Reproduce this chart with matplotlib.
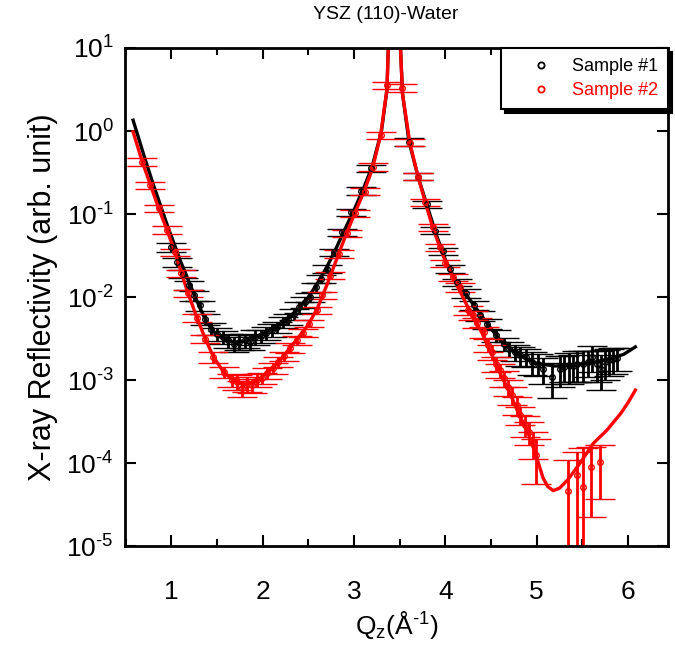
import numpy as np
import matplotlib.pyplot as plt
from matplotlib.lines import Line2D
from matplotlib.ticker import MultipleLocator, NullLocator, FuncFormatter

plt.rcParams.update({
    'font.family': 'Liberation Sans',
    'mathtext.fontset': 'custom',
    'mathtext.rm': 'Liberation Sans',
    'mathtext.it': 'Liberation Sans:italic',
    'mathtext.bf': 'Liberation Sans:bold',
    'axes.unicode_minus': False,
})

# fit curves, Q in 1/A and log10 of the reflectivity
fit1_q = [0.58, 0.65, 0.70, 0.75, 0.80, 0.85, 0.90, 0.95, 1.00, 1.05,
          1.10, 1.15, 1.20, 1.25, 1.30, 1.35, 1.40, 1.45, 1.50, 1.60,
          1.70, 1.80, 1.90, 2.00, 2.10, 2.20, 2.30, 2.40, 2.50, 2.60,
          2.70, 2.80, 2.90, 3.00, 3.10, 3.20, 3.30, 3.36, 3.38, 3.44,
          3.50, 3.53, 3.60, 3.70, 3.80, 3.90, 4.00, 4.10, 4.20, 4.30,
          4.40, 4.50, 4.60, 4.70, 4.80, 4.90, 5.00, 5.20, 5.40, 5.60,
          5.80, 5.95, 6.08]
fit1_log = [0.13, -0.12, -0.30, -0.47, -0.64, -0.80, -0.96, -1.12, -1.27, -1.42,
            -1.57, -1.70, -1.84, -1.97, -2.10, -2.22, -2.32, -2.40, -2.46, -2.52,
            -2.54, -2.53, -2.49, -2.44, -2.38, -2.31, -2.24, -2.13, -2.00, -1.83,
            -1.64, -1.42, -1.18, -0.95, -0.70, -0.42, 0.00, 0.50, 1.20, 2.00,
            1.20, 0.45, -0.12, -0.55, -0.90, -1.25, -1.55, -1.78, -1.93, -2.08,
            -2.23, -2.38, -2.52, -2.62, -2.69, -2.75, -2.80, -2.83, -2.82, -2.79,
            -2.74, -2.69, -2.60]

fit2_q = [0.58, 0.68, 0.77, 0.86, 0.95, 1.04, 1.11, 1.18, 1.28, 1.37,
          1.46, 1.57, 1.65, 1.72, 1.80, 1.88, 1.97, 2.08, 2.19, 2.30,
          2.40, 2.50, 2.60, 2.70, 2.80, 2.90, 3.00, 3.10, 3.20, 3.29,
          3.36, 3.38, 3.44, 3.50, 3.53, 3.61, 3.70, 3.78, 3.86, 3.94,
          4.00, 4.10, 4.20, 4.30, 4.40, 4.50, 4.60, 4.70, 4.80, 4.90,
          4.99, 5.07, 5.12, 5.18, 5.25, 5.34, 5.48, 5.62, 5.77, 5.92,
          6.00, 6.08]
fit2_log = [-0.01, -0.37, -0.65, -0.93, -1.19, -1.46, -1.71, -1.95, -2.25, -2.50,
            -2.72, -2.90, -2.98, -3.03, -3.05, -3.04, -2.98, -2.88, -2.76, -2.61,
            -2.47, -2.33, -2.13, -1.86, -1.57, -1.28, -1.01, -0.75, -0.46, -0.05,
            0.50, 1.20, 2.00, 1.20, 0.45, -0.14, -0.55, -0.86, -1.16, -1.40,
            -1.57, -1.80, -2.02, -2.24, -2.43, -2.68, -2.92, -3.14, -3.40, -3.62,
            -3.90, -4.18, -4.28, -4.33, -4.30, -4.20, -3.99, -3.76, -3.60, -3.40,
            -3.27, -3.12]

# measured points: Q, log10(R), relative error
s1_q = [1.00, 1.06, 1.13, 1.19, 1.25, 1.31, 1.37, 1.43, 1.50, 1.56,
        1.62, 1.68, 1.74, 1.80, 1.86, 1.92, 1.98, 2.04, 2.10, 2.16,
        2.22, 2.28, 2.34, 2.40, 2.46, 2.52, 2.58, 2.64, 2.70, 2.78,
        2.87, 2.97, 3.08, 3.18, 3.60, 3.70, 3.80, 3.89, 3.97, 4.05,
        4.13, 4.22, 4.31, 4.38, 4.46, 4.55, 4.64, 4.70, 4.76, 4.82,
        4.88, 4.95, 5.01, 5.07, 5.17, 5.26, 5.30, 5.35, 5.40, 5.44,
        5.51, 5.56, 5.61, 5.66, 5.70, 5.75, 5.79, 5.84, 5.88]
s1_log = [-1.40, -1.58, -1.72, -1.86, -1.98, -2.10, -2.26, -2.38, -2.44, -2.48,
          -2.52, -2.56, -2.54, -2.52, -2.54, -2.48, -2.47, -2.43, -2.40, -2.36,
          -2.30, -2.26, -2.20, -2.12, -2.06, -2.00, -1.88, -1.78, -1.66, -1.46,
          -1.22, -0.98, -0.72, -0.45, -0.13, -0.55, -0.88, -1.20, -1.45, -1.66,
          -1.82, -1.95, -2.10, -2.22, -2.32, -2.46, -2.56, -2.62, -2.66, -2.70,
          -2.72, -2.78, -2.80, -2.86, -2.96, -2.86, -2.84, -2.82, -2.83, -2.80,
          -2.80, -2.78, -2.72, -2.80, -2.86, -2.78, -2.76, -2.74, -2.73]
s1_rel = [0.12, 0.12, 0.12, 0.12, 0.14, 0.14, 0.15, 0.16, 0.18, 0.18,
          0.20, 0.20, 0.20, 0.20, 0.20, 0.20, 0.18, 0.18, 0.18, 0.16,
          0.16, 0.15, 0.15, 0.14, 0.14, 0.13, 0.12, 0.12, 0.12, 0.10,
          0.10, 0.10, 0.10, 0.10, 0.10, 0.10, 0.10, 0.10, 0.10, 0.10,
          0.10, 0.12, 0.12, 0.14, 0.14, 0.16, 0.18, 0.20, 0.22, 0.25,
          0.25, 0.30, 0.30, 0.35, 0.45, 0.40, 0.35, 0.40, 0.35, 0.40,
          0.40, 0.35, 0.35, 0.40, 0.45, 0.40, 0.35, 0.35, 0.30]

s2_q = [0.68, 0.77, 0.86, 0.95, 1.04, 1.11, 1.18, 1.28, 1.37, 1.46,
        1.57, 1.66, 1.72, 1.77, 1.83, 1.88, 1.94, 1.99, 2.05, 2.11,
        2.17, 2.23, 2.30, 2.37, 2.44, 2.51, 2.59, 2.65, 2.74, 2.83,
        2.92, 3.01, 3.12, 3.21, 3.29, 3.36, 3.52, 3.61, 3.70, 3.78,
        3.86, 3.94, 4.00, 4.08, 4.16, 4.25, 4.30, 4.35, 4.42, 4.47,
        4.51, 4.55, 4.60, 4.64, 4.69, 4.73, 4.78, 4.82, 4.87, 4.91,
        4.96, 4.99, 5.34, 5.44, 5.51, 5.59, 5.69]
s2_log = [-0.37, -0.65, -0.93, -1.19, -1.46, -1.71, -1.95, -2.25, -2.50, -2.72,
          -2.90, -3.00, -3.02, -3.10, -3.04, -3.06, -3.00, -2.97, -2.91, -2.85,
          -2.78, -2.71, -2.61, -2.52, -2.43, -2.32, -2.16, -1.98, -1.74, -1.48,
          -1.23, -0.99, -0.73, -0.43, -0.05, 0.55, 0.52, -0.14, -0.55, -0.86,
          -1.16, -1.40, -1.59, -1.76, -1.88, -2.16, -2.22, -2.31, -2.42, -2.58,
          -2.66, -2.80, -2.88, -2.98, -3.08, -3.18, -3.30, -3.42, -3.54, -3.62,
          -3.76, -3.90, -4.33, -4.14, -4.29, -4.05, -3.99]
s2_rel = [0.10, 0.10, 0.10, 0.10, 0.10, 0.10, 0.10, 0.10, 0.12, 0.15,
          0.15, 0.18, 0.20, 0.22, 0.20, 0.20, 0.18, 0.15, 0.15, 0.15,
          0.14, 0.13, 0.13, 0.12, 0.12, 0.10, 0.10, 0.10, 0.10, 0.10,
          0.10, 0.10, 0.10, 0.10, 0.10, 0.10, 0.10, 0.10, 0.10, 0.10,
          0.10, 0.10, 0.10, 0.10, 0.12, 0.12, 0.12, 0.14, 0.15, 0.18,
          0.20, 0.20, 0.20, 0.22, 0.22, 0.25, 0.25, 0.25, 0.28, 0.30,
          0.35, 0.55, 1.35, 0.88, 2.00, 0.75, 0.64]

labels = ['Sample #1', 'Sample #2']
colors = ['k', 'r']


def decade_label(v, pos):
    e = int(round(np.log10(v)))
    if e < 0:
        return r'$10^{\text{-%d}}$' % (-e)
    return r'$10^{%d}$' % e


fig = plt.figure(figsize=(6.75, 6.48), dpi=100)
ax = fig.add_axes([0.185, 0.157, 0.805, 0.769])

series = [(s1_q, s1_log, s1_rel, fit1_q, fit1_log),
          (s2_q, s2_log, s2_rel, fit2_q, fit2_log)]
for (q, lg, rel, fq, flg), c in zip(series, colors):
    r = 10.0 ** np.array(lg)
    err = np.array(rel) * r
    ax.errorbar(q, r, yerr=err, fmt='o', ms=4, mfc='none', mec=c, mew=1.0,
                ecolor=c, elinewidth=2, capsize=11, capthick=2.5)
    ax.plot(fq, 10.0 ** np.array(flg), color=c, lw=2.4)

ax.set_yscale('log')
ax.set_xlim(0.49, 6.44)
ax.set_ylim(1e-5, 10)
ax.xaxis.set_major_locator(MultipleLocator(1))
ax.xaxis.set_minor_locator(MultipleLocator(0.5))
ax.yaxis.set_minor_locator(NullLocator())
ax.yaxis.set_major_formatter(FuncFormatter(decade_label))
ax.tick_params(which='both', direction='in', top=True, right=True,
               labelsize=19, width=1.5)
ax.tick_params(which='major', length=8)
ax.tick_params(which='minor', length=5)
ax.tick_params(axis='x', which='major', pad=24)
ax.tick_params(axis='y', which='major', pad=8)
for s in ax.spines.values():
    s.set_linewidth(2)

ax.set_xlabel(r'Q$_{\mathrm{z}}$(Å$^{\text{-1}}$)', fontsize=19, labelpad=4)
ax.set_ylabel('X-ray Reflectivity (arb. unit)', fontsize=22, labelpad=6)
ax.set_title('YSZ (110)-Water', fontsize=14, pad=21, x=0.48)

handles = [Line2D([], [], ls='none', marker='o', ms=4.5, mfc='none', mec=c, mew=1.3)
           for c in colors]
leg = ax.legend(handles, labels, loc='upper right', borderaxespad=0,
                fontsize=13, fancybox=False, edgecolor='k', framealpha=1,
                shadow={'color': 'k', 'alpha': 1, 'ox': 3, 'oy': -3},
                handlelength=3.3, handletextpad=0.1, borderpad=0.55,
                labelspacing=0.4, labelcolor=colors)
leg.get_frame().set_linewidth(1.5)

fig.savefig('out.png', dpi=100)
